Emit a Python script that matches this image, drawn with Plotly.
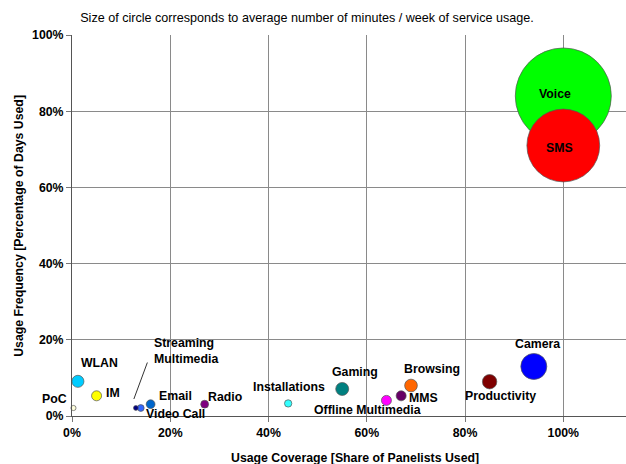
import plotly.graph_objects as go

# Mobile service usage: coverage vs. frequency, bubble area = minutes per week
services = ["Voice", "SMS", "Camera", "Productivity", "Browsing", "MMS",
            "Offline Multimedia", "Gaming", "Installations", "Radio", "Email",
            "Video Call", "Streaming Multimedia", "IM", "WLAN", "PoC"]
coverage = [1.00, 1.00, 0.94, 0.85, 0.69, 0.67, 0.64, 0.55, 0.44, 0.27, 0.16,
            0.14, 0.13, 0.05, 0.012, 0.003]
frequency = [0.84, 0.71, 0.13, 0.09, 0.08, 0.053, 0.041, 0.071, 0.033, 0.031,
             0.031, 0.021, 0.021, 0.053, 0.091, 0.021]
minutes_per_week = [120, 69, 8.8, 2.7, 2.1, 1.3, 1.3, 2.2, 0.7, 0.8, 1.0,
                    0.6, 0.3, 1.3, 1.9, 0.35]

colors = ["#00FF00", "#FF0000", "#0000FF", "#7F0000", "#FF6600", "#660066",
          "#FF00FF", "#008080", "#33FFFF", "#800080", "#0066CC",
          "#3366FF", "#000080", "#FFFF00", "#00CCFF", "#FFFFDD"]

# label offsets from each bubble centre, in pixels (right, up)
label_offsets = {
    "Voice": (-8, 2), "SMS": (-4, -3), "Camera": (4, 22),
    "Productivity": (11, -14), "Browsing": (21, 17), "MMS": (22, -2),
    "Offline Multimedia": (-19, -10), "Gaming": (13, 17),
    "Installations": (1, 16), "Radio": (21, 7), "Email": (25, 8),
    "Video Call": (35, -6), "IM": (16, 3), "WLAN": (22, 18), "PoC": (-19, 9),
}

FONT = "Liberation Sans, Arial, sans-serif"
max_diam = 96

fig = go.Figure()
fig.add_trace(go.Scatter(
    x=coverage, y=frequency, mode="markers", cliponaxis=False,
    marker=dict(size=minutes_per_week, sizemode="area",
                sizeref=2 * max(minutes_per_week) / (max_diam ** 2),
                color=colors, opacity=1,
                line=dict(color="#555555", width=0.7)),
    hovertext=services, hoverinfo="text", showlegend=False,
))

annotations = []
for name, cx, cy in zip(services, coverage, frequency):
    if name in label_offsets:
        dx, dy = label_offsets[name]
        annotations.append(dict(
            x=cx, y=cy, xref="x", yref="y", text="<b>" + name + "</b>",
            showarrow=False, xshift=dx, yshift=dy,
            font=dict(family=FONT, size=12.3, color="black"),
        ))

# two-line label with a leader line for Streaming Multimedia
i_sm = services.index("Streaming Multimedia")
sx, sy = coverage[i_sm], frequency[i_sm]
annotations.append(dict(
    x=sx, y=sy, xref="x", yref="y", text="<b>Streaming<br>Multimedia</b>",
    showarrow=False, xanchor="left", yanchor="middle", align="left",
    xshift=16, yshift=57, font=dict(family=FONT, size=12.3, color="black"),
))

# axis titles
annotations.append(dict(
    x=0.51, y=-0.11, xref="paper", yref="paper",
    text="<b>Usage Coverage [Share of Panelists Used]</b>", showarrow=False,
    yanchor="middle", font=dict(family=FONT, size=12.3, color="black"),
))
annotations.append(dict(
    x=-0.097, y=0.5, xref="paper", yref="paper", textangle=-90,
    text="<b>Usage Frequency [Percentage of Days Used]</b>", showarrow=False,
    xanchor="center", font=dict(family=FONT, size=12.3, color="black"),
))

fig.add_shape(type="line", xref="x", yref="y",
              xsizemode="pixel", ysizemode="pixel",
              xanchor=sx, yanchor=sy, x0=-2, y0=9, x1=11.5, y1=45.5,
              line=dict(color="#333333", width=1))

axis_common = dict(
    tickformat=".0%", dtick=0.2, showgrid=True, gridcolor="#8a8a8a",
    gridwidth=1, zeroline=False, showline=True, linecolor="#555555",
    linewidth=1, ticks="outside", ticklen=5, tickcolor="#777777",
    tickfont=dict(family=FONT, size=12.3, color="black", weight="bold"),
)

fig.update_layout(
    width=626, height=464,
    margin=dict(l=72, r=0, t=35, b=48, autoexpand=False),
    paper_bgcolor="white", plot_bgcolor="white",
    title=dict(
        text="Size of circle corresponds to average number of minutes / week of service usage.",
        x=307 / 626, xref="container", xanchor="center",
        y=1 - 18 / 464, yref="container", yanchor="middle",
        font=dict(family=FONT, size=12.6, color="black"),
    ),
    xaxis=dict(range=[0, 554 / 491.3], **axis_common),
    yaxis=dict(range=[0, 1], **axis_common),
    annotations=annotations,
)

fig.write_html("out.html")
